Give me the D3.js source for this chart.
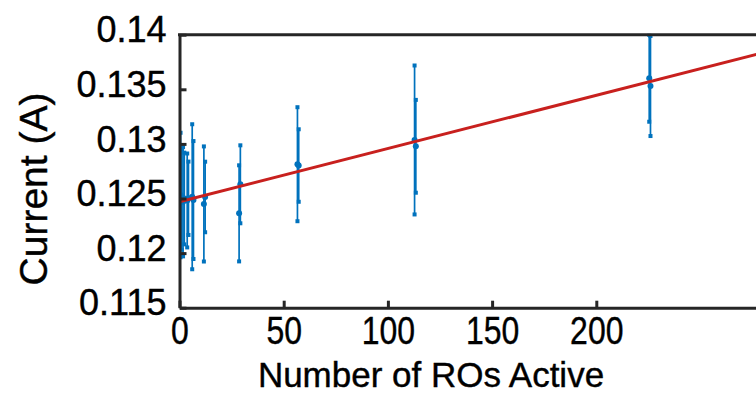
<!DOCTYPE html>
<html>
<head>
<meta charset="utf-8">
<script src="https://cdn.jsdelivr.net/npm/d3@7"></script>
<style>
  html, body { margin: 0; padding: 0; background: #fff; }
  svg text { font-family: "Liberation Sans", Arial, sans-serif; fill: #000; stroke: #000; stroke-width: 0.4px; }
</style>
</head>
<body>
<figure id="chart" style="margin:0"></figure>
<script>
// x position of each group of measurements (number of ROs active)
const roCount = [0.5, 1.7, 3.7, 6.1, 11.7, 28.6, 56.6, 112.8, 225.4];
// first run: mean current and error
const runAMean = [0.12532, 0.12470, 0.12482, 0.12516, 0.12450, 0.12364, 0.12814, 0.13036, 0.13601];
const runAErr  = [0.0057, 0.0050, 0.0043, 0.00664, 0.00527, 0.0044, 0.00522, 0.00682, 0.00398];
// second run
const runBMean = [0.12490, 0.12500, 0.12502, 0.12486, 0.12514, 0.12630, 0.12802, 0.12978, 0.13530];
const runBErr  = [0.0046, 0.0042, 0.00336, 0.0054, 0.00323, 0.00357, 0.00332, 0.00425, 0.00458];
// linear fit end points
const fitX = [0, 300];
const fitY = [0.1247, 0.13933];

const xTicks = [0, 50, 100, 150, 200];
const yTicks = [0.115, 0.12, 0.125, 0.13, 0.135, 0.14];

const W = 756, H = 393;
const plotLeft = 179.5, plotTop = 34.7, plotBottom = 307.7;
const axisColor = "#262626";
const blue = "#0072BD";
const red = "#C8201E";

const svg = d3.select("figure#chart")
  .append("svg")
  .attr("width", W)
  .attr("height", H);

const x = d3.scaleLinear().domain([0, 300]).range([plotLeft, plotLeft + 300 * 2.084]);
const y = d3.scaleLinear().domain([0.115, 0.14]).range([plotBottom, plotTop]);

svg.append("clipPath").attr("id", "plot")
  .append("rect")
  .attr("x", plotLeft).attr("y", plotTop - 1)
  .attr("width", W - plotLeft).attr("height", plotBottom - plotTop + 2);

const plot = svg.append("g").attr("clip-path", "url(#plot)");

// error bars, two runs per x
const runs = [
  { mean: runAMean, err: runAErr, dx: 0 },
  { mean: runBMean, err: runBErr, dx: 0.6 }
];
runs.forEach(run => {
  const pts = roCount.map((v, i) => ({ x: v + run.dx, m: run.mean[i], e: run.err[i] }));
  const g = plot.append("g");
  g.selectAll("line")
    .data(pts)
    .enter()
    .append("line")
    .attr("x1", d => x(d.x)).attr("x2", d => x(d.x))
    .attr("y1", d => y(d.m - d.e)).attr("y2", d => y(d.m + d.e))
    .attr("stroke", blue).attr("stroke-width", 1.7);
  // caps
  g.selectAll("rect.cap")
    .data(pts.flatMap(d => [{ x: d.x, v: d.m - d.e }, { x: d.x, v: d.m + d.e }]))
    .enter()
    .append("rect")
    .attr("class", "cap")
    .attr("x", d => x(d.x) - 2).attr("y", d => y(d.v) - 2)
    .attr("width", 4).attr("height", 4)
    .attr("fill", blue);
  // centre markers
  g.selectAll("circle")
    .data(pts)
    .enter()
    .append("circle")
    .attr("cx", d => x(d.x)).attr("cy", d => y(d.m))
    .attr("r", 3)
    .attr("fill", blue);
});

// fitted line
plot.append("path")
  .datum(fitX.map((v, i) => [v, fitY[i]]))
  .attr("d", d3.line().x(d => x(d[0])).y(d => y(d[1])))
  .attr("fill", "none")
  .attr("stroke", red)
  .attr("stroke-width", 3);

// axes with inward ticks
const xAxis = svg.append("g")
  .attr("transform", "translate(0," + plotBottom + ")")
  .call(d3.axisBottom(x).tickValues(xTicks).tickFormat(d3.format("d"))
    .tickSizeInner(-7).tickSizeOuter(0).tickPadding(9));
xAxis.select(".domain").attr("stroke", axisColor).attr("stroke-width", 3);
xAxis.selectAll(".tick line").attr("stroke", axisColor).attr("stroke-width", 3);
// the reference's x labels are taller and narrower than plain Arial
xAxis.selectAll("text").attr("font-size", 39).attr("fill", "#000")
  .attr("transform", "scale(0.82,1)");

const yAxis = svg.append("g")
  .attr("transform", "translate(" + plotLeft + ",0)")
  .call(d3.axisLeft(y).tickValues(yTicks).tickFormat(d => d3.format("")(+d.toFixed(3)))
    .tickSizeInner(-7).tickSizeOuter(0).tickPadding(13));
yAxis.select(".domain").attr("stroke", axisColor).attr("stroke-width", 3);
yAxis.selectAll(".tick line").attr("stroke", axisColor).attr("stroke-width", 3);
yAxis.selectAll("text").attr("font-size", 36).attr("dy", "0.2em").attr("fill", "#000");

// top box line
svg.append("line")
  .attr("x1", plotLeft - 1.5).attr("x2", W)
  .attr("y1", plotTop).attr("y2", plotTop)
  .attr("stroke", axisColor).attr("stroke-width", 3);

// axis titles
svg.append("text")
  .attr("x", 431).attr("y", 387)
  .attr("text-anchor", "middle")
  .attr("font-size", 35)
  .text("Number of ROs Active");

svg.append("text")
  .attr("transform", "translate(47,189) rotate(-90)")
  .attr("text-anchor", "middle")
  .attr("font-size", 39)
  .text("Current (A)");
</script>
</body>
</html>
